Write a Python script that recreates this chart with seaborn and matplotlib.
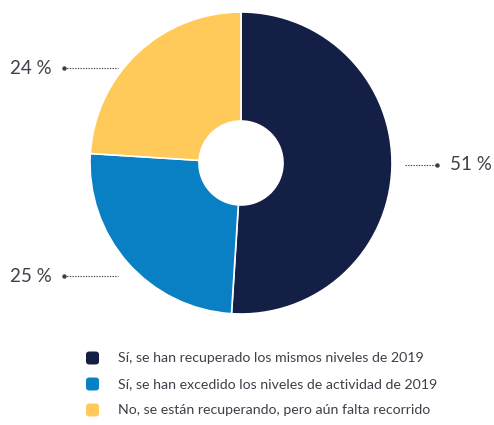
import matplotlib
matplotlib.use("Agg")
import matplotlib.pyplot as plt
import seaborn as sns
from matplotlib.patches import FancyBboxPatch

sns.set_theme(style="white")
plt.rcParams['font.family'] = ['Lato', 'DejaVu Sans']

categories = [
    "Sí, se han recuperado los mismos niveles de 2019",
    "Sí, se han excedido los niveles de actividad de 2019",
    "No, se están recuperando, pero aún falta recorrido",
]
values = [51, 25, 24]
labels = ["51 %", "25 %", "24 %"]
colors = ["#131F45", "#0A80C4", "#FFCA5A"]
text_color = "#3C4149"

W, H = 494, 425
fig = plt.figure(figsize=(W / 100, H / 100), dpi=100)
fig.patch.set_facecolor("white")

cx, cy, r = 241, 163, 151
ax = fig.add_axes([(cx - r) / W, 1 - (cy + r) / H, 2 * r / W, 2 * r / H])
ax.pie(values, colors=colors, startangle=90, counterclock=False,
       radius=1.0, wedgeprops=dict(width=1 - 42 / 151, edgecolor="white", linewidth=1.2))
ax.set_xlim(-1, 1)
ax.set_ylim(-1, 1)
ax.set_aspect("auto")
ax.axis("off")


def fx(x):
    return x / W


def fy(y):
    return 1 - y / H


# 51 %  (right)
fig.add_artist(plt.Line2D([fx(405), fx(437)], [fy(165), fy(165)], color=text_color,
                          lw=0.8, ls=(0, (1.2, 1.2))))
fig.add_artist(plt.Line2D([fx(437)], [fy(165)], marker="o", ms=2.2, color=text_color))
fig.text(fx(450), fy(164), labels[0], fontsize=13.5, color=text_color, va="center", ha="left")

# 25 % (left lower)
fig.add_artist(plt.Line2D([fx(64), fx(118)], [fy(276), fy(276)], color=text_color,
                          lw=0.8, ls=(0, (1.2, 1.2))))
fig.add_artist(plt.Line2D([fx(64)], [fy(276)], marker="o", ms=2.2, color=text_color))
fig.text(fx(10), fy(277), labels[1], fontsize=13.5, color=text_color, va="center", ha="left")

# 24 % (left upper)
fig.add_artist(plt.Line2D([fx(64), fx(118)], [fy(68), fy(68)], color=text_color,
                          lw=0.8, ls=(0, (1.2, 1.2))))
fig.add_artist(plt.Line2D([fx(64)], [fy(68)], marker="o", ms=2.2, color=text_color))
fig.text(fx(10), fy(69), labels[2], fontsize=13.5, color=text_color, va="center", ha="left")

# legend
leg_y = [358, 384, 410]
for cat, col, y in zip(categories, colors, leg_y):
    box = FancyBboxPatch((fx(86), fy(y + 6.5)), 13 / W, 13 / H,
                         boxstyle="round,pad=0,rounding_size=0.007",
                         transform=fig.transFigure, facecolor=col, edgecolor="none")
    fig.add_artist(box)
    fig.text(fx(118), fy(y), cat, fontsize=10.2, color=text_color, va="center", ha="left")

fig.savefig("out.png", dpi=100, facecolor="white")
